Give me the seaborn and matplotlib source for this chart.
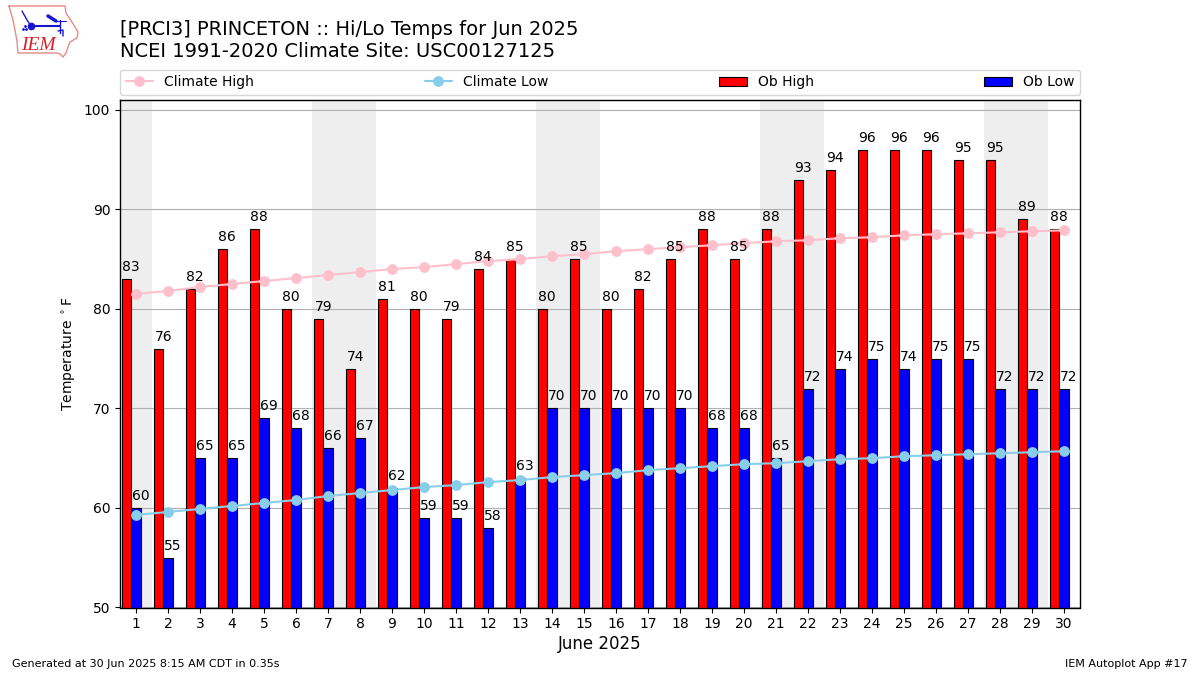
import numpy as np
import seaborn as sns
import matplotlib
matplotlib.use("Agg")
import matplotlib.pyplot as plt

days = np.arange(1, 31)
ob_high = [83, 76, 82, 86, 88, 80, 79, 74, 81, 80, 79, 84, 85, 80, 85,
           80, 82, 85, 88, 85, 88, 93, 94, 96, 96, 96, 95, 95, 89, 88]
ob_low = [60, 55, 65, 65, 69, 68, 66, 67, 62, 59, 59, 58, 63, 70, 70,
          70, 70, 70, 68, 68, 65, 72, 74, 75, 74, 75, 75, 72, 72, 72]
climate_high = [81.5, 81.8, 82.2, 82.5, 82.8, 83.1, 83.4, 83.7, 84.0, 84.2,
                84.5, 84.8, 85.0, 85.3, 85.5, 85.8, 86.0, 86.2, 86.4, 86.6,
                86.8, 86.9, 87.1, 87.2, 87.4, 87.5, 87.6, 87.7, 87.8, 87.9]
climate_low = [59.3, 59.6, 59.9, 60.2, 60.5, 60.8, 61.2, 61.5, 61.8, 62.1,
               62.3, 62.6, 62.8, 63.1, 63.3, 63.5, 63.8, 64.0, 64.2, 64.4,
               64.5, 64.7, 64.9, 65.0, 65.2, 65.3, 65.4, 65.5, 65.6, 65.7]
weekend_starts = [1, 7, 14, 21, 28]
weekend_lengths = [1, 2, 2, 2, 2]

sns.set_style("ticks")
plt.rcParams["font.family"] = ["DejaVu Sans"]
plt.rcParams["axes.edgecolor"] = "black"
plt.rcParams["xtick.color"] = "black"
plt.rcParams["ytick.color"] = "black"
plt.rcParams["text.color"] = "black"
plt.rcParams["axes.labelcolor"] = "black"

fig = plt.figure(figsize=(12, 6.75), dpi=100)
ax = fig.add_axes([0.1, 0.1, 0.8, 0.752])

for start, length in zip(weekend_starts, weekend_lengths):
    ax.axvspan(start - 0.5, start - 0.5 + length, facecolor="#eeeeee",
               edgecolor="none", zorder=0)

sns.barplot(x=days - 0.3, y=ob_high, native_scale=True, width=0.3, color="red",
            saturation=1, edgecolor="black", linewidth=0.8, label="Ob High", ax=ax)
sns.barplot(x=days.astype(float), y=ob_low, native_scale=True, width=0.3, color="blue",
            saturation=1, edgecolor="black", linewidth=0.8, label="Ob Low", ax=ax)
sns.lineplot(x=days, y=climate_high, color="pink", marker="o", markersize=7,
             markeredgecolor="pink", linewidth=1.5, label="Climate High", ax=ax, zorder=3)
sns.lineplot(x=days, y=climate_low, color="skyblue", marker="o", markersize=7,
             markeredgecolor="skyblue", linewidth=1.5, label="Climate Low", ax=ax, zorder=3)

for d, hi, lo in zip(days, ob_high, ob_low):
    ax.text(d - 0.15, hi + 0.5, str(hi), ha="center", va="bottom", fontsize=10, zorder=4)
    ax.text(d + 0.15, lo + 0.5, str(lo), ha="center", va="bottom", fontsize=10, zorder=4)

ax.set_xlim(0.5, 30.5)
ax.set_ylim(50, 101)
ax.set_xticks(days)
ax.set_xticklabels([str(d) for d in days])
ax.set_yticks(range(50, 101, 10))
ax.tick_params(labelsize=10, length=3.5, width=0.8)
ax.set_axisbelow(True)
ax.grid(True, axis="y", color="#b0b0b0", linewidth=0.8)
ax.grid(False, axis="x")
ax.set_xlabel("June 2025", fontsize=12, labelpad=3)
ax.set_ylabel("Temperature $^\\circ$F", fontsize=10)
for spine in ax.spines.values():
    spine.set_visible(True)
    spine.set_linewidth(1)

handles, labels = ax.get_legend_handles_labels()
order = [labels.index(n) for n in ["Climate High", "Climate Low", "Ob High", "Ob Low"]]
ax.legend([handles[i] for i in order], [labels[i] for i in order], ncol=4, mode="expand",
          loc="lower left", bbox_to_anchor=(0, 1.01, 1, 0.05), borderaxespad=0, fontsize=10)

fig.text(0.1, 0.9095, "[PRCI3] PRINCETON :: Hi/Lo Temps for Jun 2025\nNCEI 1991-2020 Climate Site: USC00127125",
         fontsize=14, va="bottom", ha="left")
fig.text(0.01, 0.0085, "Generated at 30 Jun 2025 8:15 AM CDT in 0.35s", fontsize=8, ha="left", va="bottom")
fig.text(0.99, 0.0085, "IEM Autoplot App #17", fontsize=8, ha="right", va="bottom")

# rough redraw of the IEM logo, in pixel coordinates
logo = fig.add_axes([0, 0.9, 0.08, 0.1])
logo.set_xlim(0, 96)
logo.set_ylim(67.5, 0)
logo.axis("off")
outline_x = [9, 65, 66, 72, 78, 77, 70, 68, 66, 63, 60, 57, 18, 17, 13, 9]
outline_y = [6, 6, 13, 22, 32, 38, 42, 47, 53, 57, 54, 53, 53, 41, 20, 6]
logo.plot(outline_x, outline_y, color="#e88a8a", linewidth=1)
logo.plot([31, 60], [26, 26], color="#1515d0", linewidth=1.5)
logo.plot([31], [26], "o", color="#1515d0", markersize=4.5)
logo.plot([22, 27, 31], [11, 20, 26], color="#1515d0", linewidth=1)
logo.plot([48, 56], [16, 21], color="#1515d0", linewidth=2.5)
logo.plot([56, 66], [21, 21], color="#1515d0", linewidth=0.8)
logo.plot([60, 60], [20, 33], color="#1515d0", linewidth=1)
logo.plot([58, 63, 63], [31, 30, 36], color="#1515d0", linewidth=1)
logo.plot([23, 26, 25], [29, 29, 26], ".", color="#1515d0", markersize=2)
logo.text(38, 45, "IEM", color="#d8202a", fontsize=14, family="Liberation Serif",
          style="italic", ha="center", va="center")

fig.savefig("out.png", dpi=100)
